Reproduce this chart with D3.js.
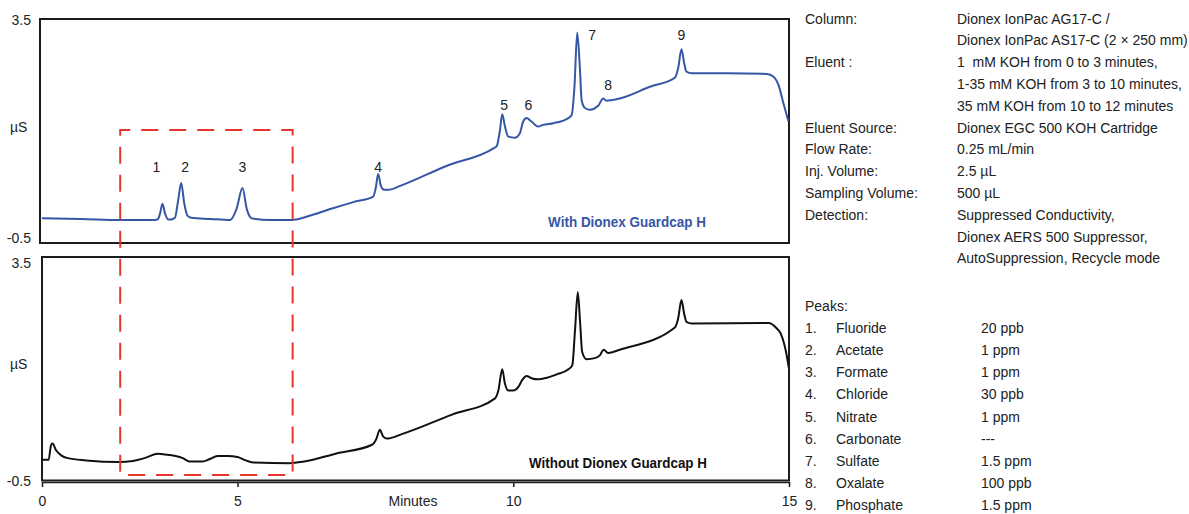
<!DOCTYPE html>
<html>
<head>
<meta charset="utf-8">
<script src="https://cdn.jsdelivr.net/npm/d3@7"></script>
<style>
  html, body { margin: 0; padding: 0; background: #fff; }
  svg { display: block; }
  text { font-family: "Liberation Sans", Arial, sans-serif; fill: #222; white-space: pre; }
</style>
</head>
<body>
<svg id="chart" width="1189" height="514"></svg>
<script>
// Chromatogram with Dionex Guardcap H: retention time (min) and conductivity (µS)
const withTime = [0.00, 1.00, 1.97, 2.89, 2.97, 3.02, 3.08, 3.15, 3.23, 3.30, 3.40, 3.48, 3.56, 3.64, 3.72, 3.82,
  4.30, 4.81, 4.98, 5.09, 5.17, 5.26, 5.59, 5.98, 6.35, 6.73, 7.10, 7.46, 7.51, 7.55, 7.60, 7.66, 7.75, 7.95, 8.80,
  9.64, 9.70, 9.76, 9.80, 9.85, 9.91, 10.03, 10.12, 10.18, 10.24, 10.33, 10.45, 10.54, 10.73, 11.00, 11.06, 11.11,
  11.16, 11.21, 11.24, 11.30, 11.39, 11.54, 11.63, 11.69, 11.78, 11.93, 12.48, 12.93, 12.99, 13.05, 13.10, 13.14,
  13.24, 13.87, 14.60, 14.72, 14.81, 14.90, 14.99];
const withSignal = [-0.06, -0.07, -0.09, -0.09, -0.07, 0.03, 0.20, 0.02, -0.08, -0.08, -0.05, 0.25, 0.57, 0.20, -0.01, -0.05,
  -0.07, -0.09, 0.12, 0.48, 0.10, -0.06, -0.09, -0.09, 0.00, 0.12, 0.23, 0.33, 0.50, 0.73, 0.52, 0.45, 0.45, 0.52, 0.88,
  1.19, 1.23, 1.52, 1.80, 1.58, 1.40, 1.38, 1.46, 1.67, 1.73, 1.67, 1.58, 1.61, 1.64, 1.73, 1.79, 2.29,
  3.26, 2.59, 2.05, 1.91, 1.88, 1.95, 2.08, 2.04, 2.05, 2.08, 2.29, 2.45, 2.62, 2.96, 2.71, 2.56,
  2.53, 2.53, 2.52, 2.47, 2.32, 1.99, 1.67];

// Chromatogram without Dionex Guardcap H
const withoutTime = [0.00, 0.17, 0.23, 0.27, 0.36, 0.49, 0.66, 1.13, 1.98, 2.32, 2.66, 2.96, 3.21, 3.47, 3.60, 3.77,
  4.11, 4.28, 4.49, 4.75, 5.00, 5.15, 5.30, 5.94, 6.21, 6.78, 7.44, 7.52, 7.58, 7.64, 7.71, 7.98, 8.89,
  9.67, 9.73, 9.80, 9.85, 9.91, 10.00, 10.09, 10.17, 10.24, 10.33, 10.45, 10.61, 10.79, 11.00, 11.07, 11.12,
  11.17, 11.21, 11.25, 11.33, 11.48, 11.57, 11.64, 11.72, 11.93, 12.93, 12.99, 13.05, 13.10, 13.14, 13.24,
  14.63, 14.78, 14.85, 14.94, 15.00];
const withoutSignal = [-0.13, -0.13, 0.13, 0.16, 0.04, -0.05, -0.10, -0.14, -0.17, -0.15, -0.09, -0.02, -0.04, -0.07, -0.10, -0.16,
  -0.16, -0.12, -0.06, -0.06, -0.08, -0.14, -0.18, -0.19, -0.16, -0.02, 0.14, 0.25, 0.41, 0.29, 0.25, 0.33, 0.68,
  0.97, 1.11, 1.49, 1.23, 1.11, 1.11, 1.17, 1.31, 1.37, 1.33, 1.31, 1.34, 1.40, 1.49, 1.56, 2.19,
  2.87, 2.37, 1.80, 1.67, 1.69, 1.74, 1.84, 1.78, 1.84, 2.24, 2.40, 2.73, 2.48, 2.34, 2.31,
  2.32, 2.22, 2.13, 1.83, 1.50];

// Peak identification
const peakNumbers = ["1", "2", "3", "4", "5", "6", "7", "8", "9"];
const peakTimes = [3.08, 3.56, 5.09, 7.55, 9.80, 10.24, 11.16, 11.63, 13.05];
const peakNames = ["Fluoride", "Acetate", "Formate", "Chloride", "Nitrate", "Carbonate", "Sulfate", "Oxalate", "Phosphate"];
const peakAmounts = ["20 ppb", "1 ppm", "1 ppm", "30 ppb", "1 ppm", "---", "1.5 ppm", "100 ppb", "1.5 ppm"];

// Axis ticks
const xTickValues = [0, 5, 10, 15];
const yTickLabels = ["-0.5", "3.5"];
const yDomain = [-0.5, 3.5];

// Zoomed region (minutes) highlighted across both runs
const highlightTimes = [2, 6];

// Chromatographic conditions
const conditionLabels = ["Column:", "Eluent :", "Eluent Source:", "Flow Rate:", "Inj. Volume:", "Sampling Volume:", "Detection:"];
const conditionValues = [
  ["Dionex IonPac AG17-C /", "Dionex IonPac AS17-C (2 × 250 mm)"],
  ["1  mM KOH from 0 to 3 minutes,", "1-35 mM KOH from 3 to 10 minutes,", "35 mM KOH from 10 to 12 minutes"],
  ["Dionex EGC 500 KOH Cartridge"],
  ["0.25 mL/min"],
  ["2.5 µL"],
  ["500 µL"],
  ["Suppressed Conductivity,", "Dionex AERS 500 Suppressor,", "AutoSuppression, Recycle mode"]
];

const BLUE = "#3656a6";
const BLACK = "#111";
const RED = "#e8352c";
const FRAME = "#1c1c1c";
const FONT = 15;

const svg = d3.select("#chart");

// Condensed lettering: regular face squeezed horizontally
function measure(str, size, weight) {
  const t = svg.append("text").attr("font-size", size).attr("font-weight", weight || "normal").text(str);
  const w = t.node().getComputedTextLength();
  t.remove();
  return w;
}
const SQUEEZE = 231 / measure("Dionex IonPac AS17-C (2 × 250 mm)", FONT);

function label(px, py, str, opts = {}) {
  const sx = opts.sx || SQUEEZE;
  const t = svg.append("text")
    .attr("transform", `translate(${px},${py}) scale(${sx},1)`)
    .attr("font-size", opts.size || FONT)
    .attr("text-anchor", opts.anchor || "start")
    .text(str);
  if (opts.weight) t.attr("font-weight", opts.weight);
  if (opts.fill) t.style("fill", opts.fill);
  return t;
}

// Time axis is drawn on a two-segment linear scale (0–5 and 5–15 min)
const x = d3.scaleLinear().domain([0, 5, 15]).range([42, 237.5, 789]);
const yTop = d3.scaleLinear().domain(yDomain).range([243, 19]);
const yBot = d3.scaleLinear().domain(yDomain).range([480.5, 257]);

const line = (y) => d3.line()
  .x(d => x(d[0]))
  .y(d => y(d[1]))
  .curve(d3.curveMonotoneX);

const withData = withTime.map((t, i) => [t, withSignal[i]]);
const withoutData = withoutTime.map((t, i) => [t, withoutSignal[i]]);

// Panel frames
svg.append("rect").attr("x", 40).attr("y", yTop(3.5)).attr("width", 749).attr("height", yTop(-0.5) - yTop(3.5))
  .attr("fill", "none").attr("stroke", FRAME).attr("stroke-width", 2);
svg.append("rect").attr("x", 42).attr("y", yBot(3.5)).attr("width", 747).attr("height", yBot(-0.5) - yBot(3.5))
  .attr("fill", "none").attr("stroke", FRAME).attr("stroke-width", 2);

// Clip traces to each frame
const defs = svg.append("defs");
defs.append("clipPath").attr("id", "clipTop").append("rect")
  .attr("x", 40).attr("y", yTop(3.5)).attr("width", 749).attr("height", yTop(-0.5) - yTop(3.5));
defs.append("clipPath").attr("id", "clipBot").append("rect")
  .attr("x", 42).attr("y", yBot(3.5)).attr("width", 747).attr("height", yBot(-0.5) - yBot(3.5));

svg.append("path").datum(withData)
  .attr("clip-path", "url(#clipTop)")
  .attr("d", line(yTop)).attr("fill", "none").attr("stroke", BLUE).attr("stroke-width", 2)
  .attr("stroke-linejoin", "round");
svg.append("path").datum(withoutData)
  .attr("clip-path", "url(#clipBot)")
  .attr("d", line(yBot)).attr("fill", "none").attr("stroke", BLACK).attr("stroke-width", 2)
  .attr("stroke-linejoin", "round");

// Highlighted window spanning both chromatograms
svg.append("rect")
  .attr("x", x(highlightTimes[0])).attr("y", yTop(1.52))
  .attr("width", x(highlightTimes[1]) - x(highlightTimes[0]))
  .attr("height", yBot(-0.4) - yTop(1.52))
  .attr("fill", "none").attr("stroke", RED).attr("stroke-width", 2)
  .attr("stroke-dasharray", "17,11").attr("stroke-dashoffset", 7);

// Y labels for each panel
function yLabels(y, offsets, unitY) {
  yTickLabels.forEach((lab, i) => {
    label(31, y(+lab) + offsets[i], lab, { anchor: "end" });
  });
  label(10, unitY, "µS");
}
yLabels(yTop, [-0.5, 5.5], 132);
yLabels(yBot, [5, 10.5], 368.5);

// Time axis, sitting just under the lower frame
const xAxis = d3.axisBottom(x).tickValues(xTickValues).tickSize(5).tickSizeOuter(0).tickFormat(d3.format("d"));
const gx = svg.append("g").attr("transform", "translate(0,482)").call(xAxis);
gx.select(".domain").attr("stroke", FRAME).attr("stroke-width", 1.5);
gx.selectAll(".tick line").attr("stroke", FRAME).attr("stroke-width", 1.5);
gx.selectAll(".tick text")
  .attr("y", null).attr("dy", null)
  .attr("transform", `translate(0,23.5) scale(${SQUEEZE},1)`)
  .attr("font-size", FONT).attr("font-family", null).attr("fill", "#222");
label(413, 506, "Minutes", { anchor: "middle" });

// Peak numbers above the Guardcap trace
const labelDx = [-6, 4, 0, 0, 2, 2, 15, 5, 0];
const labelLevel = [0.77, 0.77, 0.77, 0.77, 1.88, 1.88, 3.12, 2.24, 3.12];
peakNumbers.forEach((n, i) => {
  label(x(peakTimes[i]) + labelDx[i], yTop(labelLevel[i]), n, { anchor: "middle" });
});

// Trace captions
const capWith = "With Dionex Guardcap H";
const capWithout = "Without Dionex Guardcap H";
label(627, 227, capWith, { anchor: "middle", weight: "bold", fill: BLUE,
  sx: 158 / measure(capWith, FONT, "bold") });
label(618, 468, capWithout, { anchor: "middle", weight: "bold", fill: BLACK,
  sx: 178 / measure(capWithout, FONT, "bold") });

// Conditions table
let row = 0;
const rowY = (r) => 23.5 + r * 21.8;
conditionLabels.forEach((lab, i) => {
  label(805, rowY(row), lab);
  conditionValues[i].forEach((v, j) => label(957, rowY(row + j), v));
  row += conditionValues[i].length;
});

// Peak list
const peakRowY = (r) => 310.5 + r * 22.2;
label(805, peakRowY(0), "Peaks:");
peakNames.forEach((name, i) => {
  label(805, peakRowY(i + 1), peakNumbers[i] + ".");
  label(836, peakRowY(i + 1), name);
  label(981, peakRowY(i + 1), peakAmounts[i]);
});
</script>
</body>
</html>
